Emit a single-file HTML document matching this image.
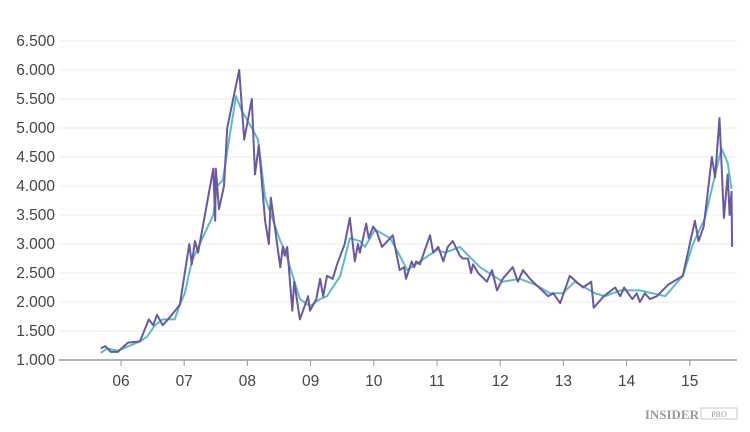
<!DOCTYPE html>
<html><head><meta charset="utf-8"><style>
body{margin:0;background:#fff;width:750px;height:432px;overflow:hidden;font-family:"Liberation Sans",sans-serif}
svg{display:block}
</style></head><body>
<svg id="chart" width="750" height="432" xmlns="http://www.w3.org/2000/svg">
<g id="grid"></g><g id="axes"></g><g id="series"></g>
<g>
<text x="699" y="419" text-anchor="end" font-family="Liberation Serif,serif" font-size="13" font-weight="bold" fill="#999">INSIDER</text>
<rect x="701" y="408" width="36" height="11" fill="none" stroke="#bbb" stroke-width="0.8"/>
<text x="719" y="417" text-anchor="middle" font-family="Liberation Serif,serif" font-size="8" fill="#999">PRO</text>
</g>
</svg>
<script>
const yTicks=[1000,1500,2000,2500,3000,3500,4000,4500,5000,5500,6000,6500];
const yTickLabels=["1.000","1.500","2.000","2.500","3.000","3.500","4.000","4.500","5.000","5.500","6.000","6.500"];
const xTicks=[6,7,8,9,10,11,12,13,14,15];
const xTickLabels=["06","07","08","09","10","11","12","13","14","15"];
const priceT=[5.68,5.75,5.84,5.95,6.11,6.30,6.44,6.51,6.57,6.66,6.76,6.93,7.08,7.12,7.17,7.22,7.46,7.49,7.50,7.55,7.63,7.68,7.87,7.95,8.07,8.12,8.18,8.28,8.34,8.37,8.52,8.56,8.59,8.63,8.71,8.74,8.83,8.96,8.99,9.09,9.15,9.20,9.26,9.35,9.42,9.54,9.62,9.70,9.75,9.78,9.88,9.92,9.99,10.05,10.13,10.30,10.41,10.48,10.51,10.60,10.64,10.67,10.73,10.89,10.94,11.02,11.10,11.17,11.25,11.36,11.41,11.49,11.54,11.57,11.65,11.79,11.87,11.95,12.04,12.20,12.28,12.36,12.47,12.76,12.84,12.95,13.10,13.31,13.44,13.48,13.64,13.82,13.90,13.96,14.09,14.16,14.21,14.29,14.37,14.48,14.66,14.89,15.08,15.14,15.22,15.35,15.40,15.47,15.54,15.60,15.63,15.66,15.67];
const priceV=[1200,1240,1140,1140,1300,1320,1700,1600,1780,1600,1720,1950,3000,2650,3050,2850,4300,3400,4300,3600,4000,5000,6000,4800,5500,4200,4700,3400,3000,3800,2600,2950,2800,2950,1850,2350,1700,2100,1850,2050,2400,2100,2450,2400,2650,3000,3450,2700,3000,2850,3350,3100,3300,3200,2950,3150,2550,2600,2400,2700,2600,2700,2650,3150,2850,2950,2700,2950,3050,2800,2750,2750,2500,2650,2500,2350,2550,2200,2400,2600,2350,2550,2400,2100,2150,1980,2450,2250,2350,1900,2100,2250,2100,2250,2050,2150,2000,2150,2050,2100,2300,2450,3400,3050,3300,4500,4150,5170,3450,4200,3500,3900,2950];
const avgT=[5.68,5.78,5.95,6.30,6.41,6.54,6.66,6.85,6.93,7.01,7.12,7.33,7.46,7.52,7.61,7.71,7.82,7.91,8.07,8.17,8.28,8.52,8.59,8.83,8.99,9.15,9.26,9.47,9.62,9.78,9.86,10.02,10.26,10.41,10.53,10.73,11.00,11.13,11.36,11.68,12.04,12.31,12.55,12.79,12.99,13.18,13.50,13.66,13.90,14.21,14.61,14.89,15.05,15.24,15.50,15.60,15.66];
const avgV=[1120,1200,1160,1320,1400,1600,1700,1700,1950,2150,2700,3200,3500,4000,4100,4800,5550,5300,5000,4800,3800,3050,2900,2050,1930,2050,2100,2450,3100,3050,2950,3250,3100,2800,2550,2700,2900,2850,2950,2600,2350,2400,2300,2150,2150,2350,2150,2100,2200,2200,2100,2450,3000,3450,4650,4400,3950];
const NS="http://www.w3.org/2000/svg";
const X=t=>121+(t-6)*63.2;
const Y=v=>360-(v-1000)/5500*319;
function mk(tag,attrs,parent){const e=document.createElementNS(NS,tag);for(const k in attrs)e.setAttribute(k,attrs[k]);parent.appendChild(e);return e;}
const grid=document.getElementById('grid'),axes=document.getElementById('axes'),series=document.getElementById('series');
yTicks.forEach((v,i)=>{
  if(i>0){const l=mk('line',{x1:59,x2:737,y1:Y(v),y2:Y(v),stroke:'#ebebeb','stroke-width':1},grid);
  
  }
  const t=mk('text',{x:55,y:Y(v)+5,'text-anchor':'end','font-size':15.5,fill:'#444'},axes);
  t.textContent=yTickLabels[i];
  
  
});
const base=mk('line',{x1:59,x2:737,y1:360,y2:360,stroke:'#999','stroke-width':1.5},axes);


xTicks.forEach((t,i)=>{
  const tk=mk('line',{x1:X(t),x2:X(t),y1:360,y2:366,stroke:'#999','stroke-width':1},axes);
  
  
  const tx=mk('text',{x:X(t),y:386,'text-anchor':'middle','font-size':15.5,fill:'#444'},axes);
  tx.textContent=xTickLabels[i];
  
  
});
function path(T,V){return T.map((t,i)=>(i?'L':'M')+X(t).toFixed(1)+','+Y(V[i]).toFixed(1)).join('');}
const avg=mk('path',{d:path(avgT,avgV),fill:'none',stroke:'#5bbcc4','stroke-width':2,'stroke-linejoin':'round'},series);


const pr=mk('path',{d:path(priceT,priceV),fill:'none',stroke:'#6a58a0','stroke-width':2,'stroke-linejoin':'round'},series);


</script>
</body></html>
